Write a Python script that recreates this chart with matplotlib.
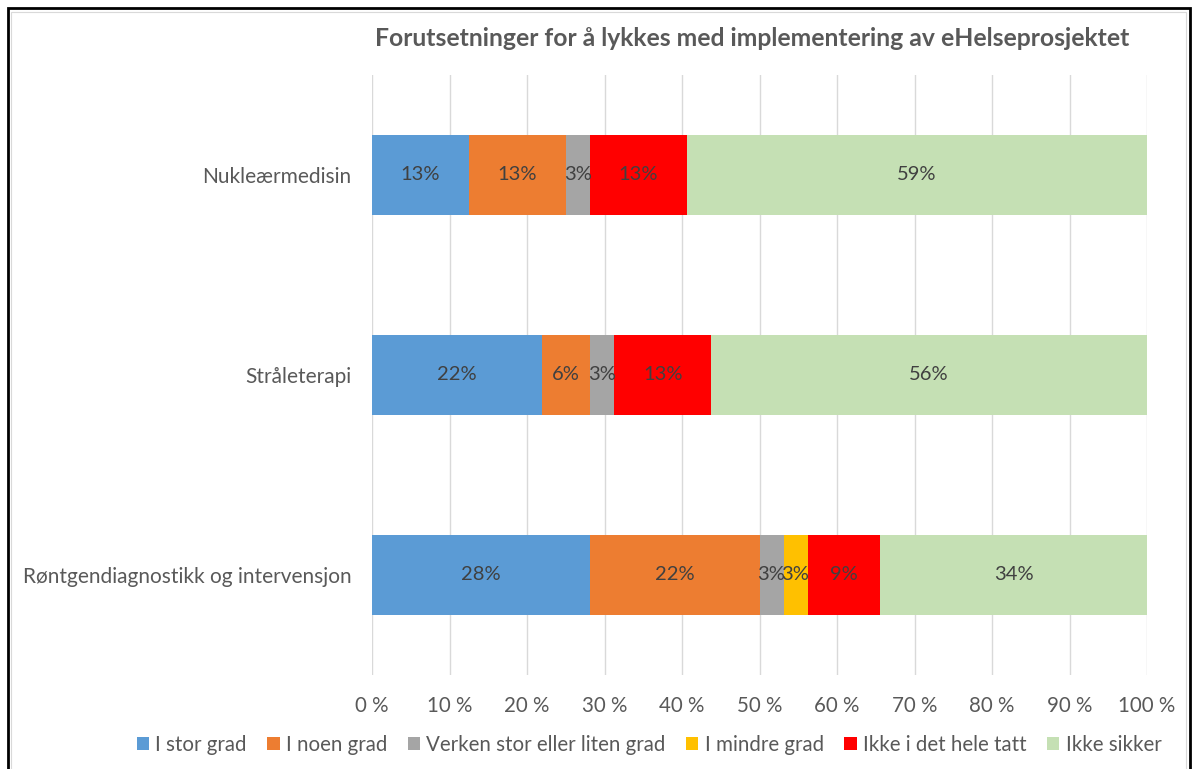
import numpy as np
import matplotlib.pyplot as plt
from matplotlib.patches import Rectangle

plt.rcParams["font.family"] = ["Lato", "DejaVu Sans"]

categories = ["Nukleærmedisin", "Stråleterapi", "Røntgendiagnostikk og intervensjon"]
series = ["I stor grad", "I noen grad", "Verken stor eller liten grad",
          "I mindre grad", "Ikke i det hele tatt", "Ikke sikker"]
colors = ["#5B9BD5", "#ED7D31", "#A5A5A5", "#FFC000", "#FF0000", "#C5E0B4"]

# percent per category (top to bottom), one list per answer
i_stor_grad = [12.5, 21.9, 28.1]
i_noen_grad = [12.5, 6.25, 21.9]
verken = [3.1, 3.1, 3.1]
i_mindre_grad = [0.0, 0.0, 3.1]
ikke_i_det_hele = [12.5, 12.5, 9.4]
ikke_sikker = [59.4, 56.25, 34.4]

values = [i_stor_grad, i_noen_grad, verken, i_mindre_grad, ikke_i_det_hele, ikke_sikker]

fig = plt.figure(figsize=(11.95, 7.69), dpi=100)
ax = fig.add_axes([372 / 1195, 1 - 675 / 769, 775 / 1195, 600 / 769])

y = np.arange(len(categories))
left = np.zeros(len(categories))
for name, vals, col in zip(series, values, colors):
    vals = np.array(vals)
    bars = ax.barh(y, vals, left=left, height=0.4, color=col, label=name, zorder=3)
    for b, v in zip(bars, vals):
        if v > 0:
            ax.text(b.get_x() + b.get_width() / 2, b.get_y() + b.get_height() / 2,
                    f"{int(v + 0.5)}%", ha="center", va="center",
                    fontsize=14.5, color="#404040", zorder=4)
    left += vals

ax.set_xlim(0, 100)
ax.set_ylim(2.5, -0.5)
ax.set_yticks(y)
ax.set_yticklabels(categories, fontsize=15, color="#595959")
ax.set_xticks(np.arange(0, 101, 10))
ax.set_xticklabels([f"{t} %" for t in range(0, 101, 10)], fontsize=14.8, color="#595959")
ax.tick_params(axis="both", length=0)
ax.tick_params(axis="x", pad=15)
ax.tick_params(axis="y", pad=15)
ax.grid(axis="x", color="#D9D9D9", linewidth=1, zorder=0)
for s in ax.spines.values():
    s.set_visible(False)

fig.text(752 / 1195, 1 - 38 / 769, "Forutsetninger for å lykkes med implementering av eHelseprosjektet",
         ha="center", va="center", fontsize=17.8, fontweight="bold", color="#595959")

fig.legend(loc="center", bbox_to_anchor=(649 / 1195, 1 - 745 / 769), ncol=6,
           frameon=False, fontsize=14.8, handlelength=0.6, handleheight=0.6,
           handletextpad=0.3, columnspacing=1.0, labelcolor="#595959")

# outer frame
fig.patches.append(Rectangle((8 / 1195, -0.01), 1182 / 1195, 1 - 8 / 769 + 0.01,
                             transform=fig.transFigure, fill=False,
                             edgecolor="black", linewidth=2))
fig.patches.append(Rectangle((11 / 1195, -0.01), 1175 / 1195, 1 - 12 / 769 + 0.01,
                             transform=fig.transFigure, fill=False,
                             edgecolor="#D9D9D9", linewidth=0.8))

plt.savefig("out.png", dpi=100)
